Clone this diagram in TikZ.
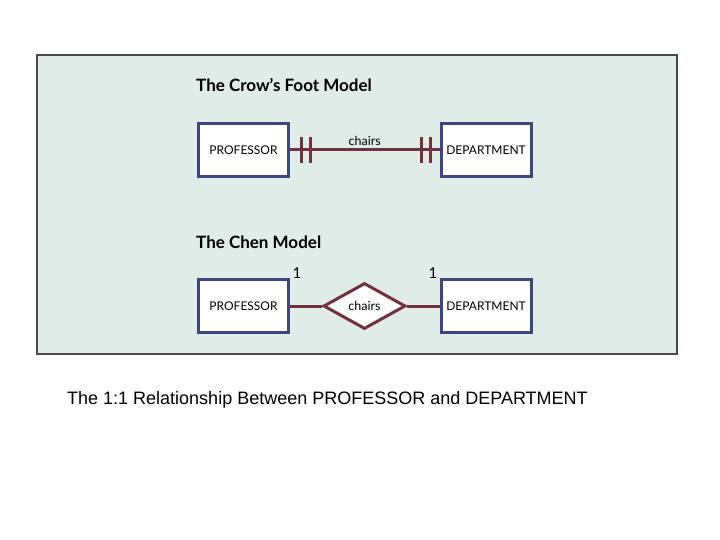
\documentclass[tikz,border=0pt]{standalone}
\usepackage{fontspec}
\setmainfont{Liberation Sans}
\newfontfamily\diagfont{Lato}
\usetikzlibrary{shapes.geometric,positioning}
\definecolor{panelfill}{HTML}{E0ECE8}
\definecolor{panelline}{HTML}{4A4A4A}
\definecolor{boxline}{HTML}{3C4680}
\definecolor{relline}{HTML}{74303C}
\begin{document}
\begin{tikzpicture}[x=1pt,y=-1pt,
    panel/.style={fill=panelfill, draw=panelline, line width=1.5pt},
    modeltitle/.style={anchor=west, inner sep=0pt, font=\diagfont\bfseries\fontsize{17}{20}\selectfont},
    entity/.style={draw=boxline, fill=white, line width=3pt, minimum width=90pt, minimum height=53pt, inner sep=0pt, font=\diagfont\fontsize{12}{14}\selectfont},
    relbox/.style={diamond, draw=relline, fill=white, line width=3pt, minimum width=82pt, minimum height=46pt, inner sep=0pt, font=\diagfont\fontsize{12.5}{14}\selectfont},
    rel/.style={draw=relline, line width=3pt},
    card/.style={inner sep=0pt, font=\diagfont\fontsize{15}{17}\selectfont},
    caption/.style={anchor=west, inner sep=0pt, font=\fontsize{18}{21}\selectfont}]
    \useasboundingbox (0,0) rectangle (720,540);
    \draw[panel] (37,55) rectangle (677,354);
    \node[modeltitle] (cftitle) at (196,85) {The Crow’s Foot Model};
    \node[entity] (prof1) at (243.5,150) {PROFESSOR};
    \node[entity] (dept1) at (486,150) {DEPARTMENT};
    \draw[rel] (prof1) -- (dept1) node[midway, above=3pt, inner sep=0pt, font=\diagfont\fontsize{12.5}{14}\selectfont] {chairs};
    \draw[rel] ([xshift=11pt,yshift=13pt]prof1.east) -- ([xshift=11pt,yshift=-13pt]prof1.east);
    \draw[rel] ([xshift=20pt,yshift=13pt]prof1.east) -- ([xshift=20pt,yshift=-13pt]prof1.east);
    \draw[rel] ([xshift=-9pt,yshift=13pt]dept1.west) -- ([xshift=-9pt,yshift=-13pt]dept1.west);
    \draw[rel] ([xshift=-18pt,yshift=13pt]dept1.west) -- ([xshift=-18pt,yshift=-13pt]dept1.west);
    \node[modeltitle] (chentitle) at (196,242) {The Chen Model};
    \node[entity] (prof2) at (243.5,306) {PROFESSOR};
    \node[entity] (dept2) at (486,306) {DEPARTMENT};
    \node[relbox] (chairs2) at (364.5,306) {chairs};
    \draw[rel] (prof2) -- (chairs2);
    \draw[rel] (chairs2) -- (dept2);
    \node[card] (oneprof) at (297,273) {1};
    \node[card] (onedept) at (433,273) {1};
    \node[caption] (cap) at (67,400) {The 1:1 Relationship Between PROFESSOR and DEPARTMENT};
\end{tikzpicture}
\end{document}
